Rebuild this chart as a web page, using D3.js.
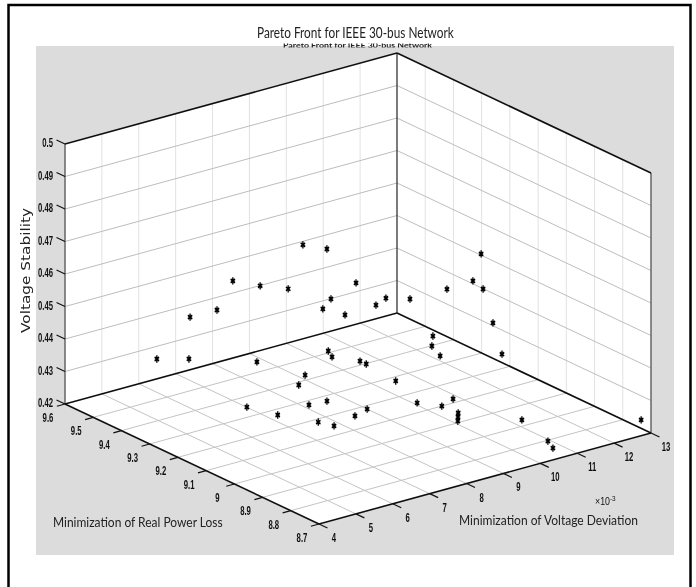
<!doctype html>
<html lang="en">
<head>
  <meta charset="UTF-8">
  <title>Pareto Front for IEEE 30-bus Network</title>
  <script src="https://cdn.jsdelivr.net/npm/d3@7"></script>
  <style>
    html, body { margin: 0; padding: 0; background: #fff; }
    svg { display: block; }
    .tick-label { font-family: "Liberation Sans", sans-serif; font-weight: bold; font-size: 12.5px; fill: #111; }
    .axis-title { font-family: Lato, "Open Sans", sans-serif; font-size: 14px; fill: #222; }
  </style>
</head>
<body>
<svg width="696" height="587" id="pareto"></svg>
<script>
  // voltage deviation (x10^-3), real power loss, voltage stability for each point
  var voltageDeviation = [
    6.49, 7.36, 7.39, 8.12, 8.55, 9.29, 10.05, 10.45, 11.10, 10.99, 11.21, 11.59, 11.89, 12.43, 12.70,
    13, 13, 13, 13, 13, 13, 13, 13,
    8.82, 7.01, 7.25, 9.17, 8.70, 10.44, 10.29, 8.15, 8.60, 7.69, 7.82, 10.62, 10.62, 10.51,
    8.54, 9.00, 10.08, 10.39, 10.84, 10.42, 10.27, 10.12, 11.26, 10.94, 10.77, 12.78, 12.40, 12.18
  ];
  var powerLoss = [
    9.6, 9.6, 9.6, 9.6, 9.6, 9.6, 9.6, 9.6, 9.6, 9.6, 9.6, 9.6, 9.6, 9.6, 9.6,
    9.554, 9.423, 9.331, 9.302, 9.295, 9.26, 9.228, 8.735,
    9.55, 9.349, 9.271, 9.425, 9.386, 9.509, 9.476, 9.278, 9.273, 9.185, 9.146, 9.42, 9.398, 9.279,
    9.166, 9.183, 9.147, 9.10, 9.119, 9.046, 9.027, 9.008, 8.93, 8.796, 8.756, 9.444, 9.398, 9.34
  ];
  var voltageStability = [
    0.4261, 0.4234, 0.4362, 0.4361, 0.4437, 0.4399, 0.4366, 0.4489, 0.4456, 0.4275, 0.4299, 0.4238, 0.4327, 0.4242, 0.4255,
    0.4262, 0.4346, 0.4409, 0.4504, 0.4399, 0.4309, 0.4226, 0.4226,
    0.42, 0.42, 0.42, 0.42, 0.42, 0.42, 0.42, 0.42, 0.42, 0.42, 0.42, 0.42, 0.42, 0.42,
    0.42, 0.42, 0.42, 0.42, 0.42, 0.42, 0.42, 0.42, 0.42, 0.42, 0.42, 0.42, 0.42, 0.42
  ];

  var xTicks = [4, 5, 6, 7, 8, 9, 10, 11, 12, 13];
  var yTicks = [8.7, 8.8, 8.9, 9, 9.1, 9.2, 9.3, 9.4, 9.5, 9.6];
  var zTicks = [0.42, 0.43, 0.44, 0.45, 0.46, 0.47, 0.48, 0.49, 0.5];

  var svg = d3.select('#pareto');

  // blur a little, the reference is a scaled screenshot
  var defs = svg.append('defs');
  defs.append('filter').attr('id', 'soft')
    .attr('x', 0).attr('y', 0).attr('width', 1).attr('height', 1)
    .attr('filterUnits', 'objectBoundingBox')
    .append('feGaussianBlur').attr('stdDeviation', 0.45);
  defs.append('clipPath').attr('id', 'ghostClip')
    .append('rect').attr('x', 0).attr('y', -4.5).attr('width', 220).attr('height', 4);

  var root = svg.append('g').attr('filter', 'url(#soft)');

  // the 3d box is an oblique projection, each scale gives the pixel shift along its own edge
  var xToPx = d3.scaleLinear().domain([4, 13]).range([0, 332]),
    xToPy = d3.scaleLinear().domain([4, 13]).range([0, -91]),
    yToPx = d3.scaleLinear().domain([8.7, 9.6]).range([0, -254]),
    yToPy = d3.scaleLinear().domain([8.7, 9.6]).range([0, -120]),
    zToPy = d3.scaleLinear().domain([0.42, 0.5]).range([0, -260]);

  var originX = 319, originY = 524;

  function project(x, y, z) {
    return [originX + xToPx(x) + yToPx(y), originY + xToPy(x) + yToPy(y) + zToPy(z)];
  }

  var xMin = 4, xMax = 13, yMin = 8.7, yMax = 9.6, zMin = 0.42, zMax = 0.5;
  var line = d3.line();

  root.append('rect').attr('width', 696).attr('height', 587).attr('fill', '#fff');
  root.append('rect')
    .attr('x', 36).attr('y', 46)
    .attr('width', 638).attr('height', 509)
    .attr('fill', '#dcdcdc');

  // white planes
  var planes = [
    [[xMin, yMin, zMin], [xMax, yMin, zMin], [xMax, yMax, zMin], [xMin, yMax, zMin]],
    [[xMin, yMax, zMin], [xMax, yMax, zMin], [xMax, yMax, zMax], [xMin, yMax, zMax]],
    [[xMax, yMax, zMin], [xMax, yMin, zMin], [xMax, yMin, zMax], [xMax, yMax, zMax]]
  ];
  root.selectAll('.plane').data(planes).enter().append('path').attr('class', 'plane')
    .attr('fill', '#fff')
    .attr('d', function (d) {
      return line(d.map(function (p) { return project(p[0], p[1], p[2]); })) + 'Z';
    });

  function seg(a, b, color, w) {
    root.append('path')
      .attr('d', line([project(a[0], a[1], a[2]), project(b[0], b[1], b[2])]))
      .attr('fill', 'none')
      .attr('stroke', color)
      .attr('stroke-width', w);
  }

  // grid
  var floorGrid = '#c4c4c4', wallVert = '#e2e2e2', wallFlat = '#bdbdbd';
  xTicks.slice(1, -1).forEach(function (t) {
    seg([t, yMin, zMin], [t, yMax, zMin], floorGrid, 1);
    seg([t, yMax, zMin], [t, yMax, zMax], wallVert, 1);
  });
  yTicks.slice(1, -1).forEach(function (t) {
    seg([xMin, t, zMin], [xMax, t, zMin], floorGrid, 1);
    seg([xMax, t, zMin], [xMax, t, zMax], wallVert, 1);
  });
  zTicks.slice(1, -1).forEach(function (t) {
    seg([xMin, yMax, t], [xMax, yMax, t], wallFlat, 1);
    seg([xMax, yMax, t], [xMax, yMin, t], wallFlat, 1);
  });

  // box edges
  seg([xMin, yMax, zMin], [xMin, yMax, zMax], '#666', 1.5);
  seg([xMax, yMax, zMin], [xMax, yMax, zMax], '#333', 1.3);
  seg([xMax, yMin, zMin], [xMax, yMin, zMax], '#666', 1.5);
  seg([xMin, yMax, zMax], [xMax, yMax, zMax], '#111', 1.6);
  seg([xMax, yMax, zMax], [xMax, yMin, zMax], '#111', 1.6);
  seg([xMin, yMax, zMin], [xMax, yMax, zMin], '#111', 1.6);
  seg([xMax, yMax, zMin], [xMax, yMin, zMin], '#111', 1.6);
  seg([xMin, yMin, zMin], [xMax, yMin, zMin], '#111', 1.6);
  seg([xMin, yMin, zMin], [xMin, yMax, zMin], '#111', 1.6);

  // tick labels are squeezed, no condensed bold face is around
  function tickLabel(x, y, anchor, t) {
    root.append('text').attr('class', 'tick-label')
      .attr('transform', 'translate(' + x + ',' + y + ') scale(0.62,1)')
      .attr('text-anchor', anchor)
      .text(t);
  }

  // ticks and their labels, the stubs run on along the neighbouring edge
  var xStub = 0.03, yStub = 0.22;
  xTicks.forEach(function (t) {
    seg([t, yMin, zMin], [t, yMin - xStub, zMin], '#111', 1.2);
    var p = project(t, yMin, zMin);
    tickLabel(p[0] + 15, p[1] + 18, 'middle', t);
  });
  yTicks.forEach(function (t) {
    seg([xMin, t, zMin], [xMin - yStub, t, zMin], '#111', 1.2);
    var p = project(xMin, t, zMin);
    tickLabel(p[0] - 17, p[1] + 18, 'middle', t);
  });
  zTicks.forEach(function (t) {
    seg([xMin, yMax, t], [xMin, yMax + xStub, t], '#111', 1.2);
    var p = project(xMin, yMax, t);
    tickLabel(53, p[1] + 3, 'end', t);
  });

  // points, asterisks stretched upright like in the screenshot
  var star = d3.symbol().type(d3.symbolAsterisk).size(20);
  root.selectAll('.pt').data(voltageDeviation).enter().append('path').attr('class', 'pt')
    .attr('d', star)
    .attr('fill', 'none')
    .attr('stroke', '#000')
    .attr('stroke-width', 1.4)
    .attr('transform', function (d, i) {
      var p = project(d, powerLoss[i], voltageStability[i]);
      return 'translate(' + p[0] + ',' + p[1] + ') scale(0.95,1.35)';
    });

  // titles, drawn at natural width and then scaled to the span they have in the picture
  function fitted(text, x0, x1, y, size) {
    var el = root.append('text').attr('class', 'axis-title')
      .style('font-size', size + 'px')
      .text(text);
    var k = (x1 - x0) / el.node().getComputedTextLength();
    return el.attr('transform', 'translate(' + x0 + ',' + y + ') scale(' + k + ',1)');
  }

  fitted('Pareto Front for IEEE 30-bus Network', 257, 454, 38, 15);
  // second copy of the title, nearly hidden behind the grey panel
  var ghost = root.append('g').attr('transform', 'translate(283,48)').attr('clip-path', 'url(#ghostClip)');
  ghost.append('text')
    .attr('font-family', 'Lato, sans-serif')
    .attr('font-weight', 'bold')
    .attr('font-size', 7.5)
    .attr('fill', '#222')
    .attr('textLength', 149)
    .attr('lengthAdjust', 'spacingAndGlyphs')
    .text('Pareto Front for IEEE 30-bus Network');
  fitted('Minimization of Real Power Loss', 53, 223, 527, 14);
  fitted('Minimization of Voltage Deviation', 459, 638, 525, 14);

  root.append('text')
    .attr('transform', 'translate(30,333) rotate(-90)')
    .attr('font-family', 'DejaVu Sans, Verdana, sans-serif')
    .attr('font-size', 12.5)
    .attr('fill', '#222')
    .attr('textLength', 125)
    .attr('lengthAdjust', 'spacingAndGlyphs')
    .text('Voltage Stability');

  var scaleNote = root.append('text')
    .attr('transform', 'translate(595,505) scale(0.8,1)')
    .attr('font-family', 'Liberation Sans, sans-serif')
    .attr('font-size', 11).attr('fill', '#111');
  scaleNote.append('tspan').text('×10');
  scaleNote.append('tspan').attr('dy', -4).attr('font-size', 8).text('-3');

  // page frame, open at the bottom
  root.append('path')
    .attr('d', line([[8.5, 587], [8.5, 5], [690.5, 5], [690.5, 587]]))
    .attr('fill', 'none')
    .attr('stroke', '#000')
    .attr('stroke-width', 2.5);
</script>
</body>
</html>
